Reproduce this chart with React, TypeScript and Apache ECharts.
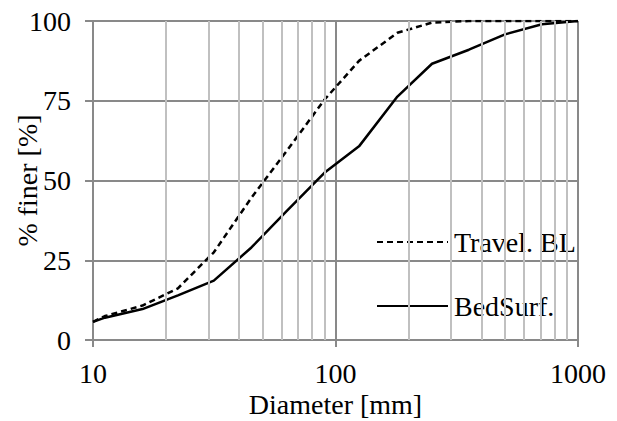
import React, { useEffect, useRef } from "react";
import * as echarts from "echarts";

const diameters = [10, 11.2, 16, 22.4, 31.5, 45, 63, 90, 125, 180, 250, 355, 500, 710, 1000];
const travelBL = [5.7, 7.5, 10.8, 16.2, 27.5, 44.6, 59.3, 75.3, 87.5, 96.3, 99.5, 100, 100, 100, 100];
const bedSurf = [5.7, 7.0, 9.7, 14.0, 18.6, 29.0, 40.5, 52.4, 60.7, 76.3, 86.6, 91.0, 95.8, 99.0, 100];
const minorGrid = [20, 30, 40, 50, 60, 70, 80, 90, 200, 300, 400, 500, 600, 700, 800, 900];
const seriesNames = ["Travel. BL", "BedSurf."];

const FONT = "Liberation Serif";
const FS = 28;

export default function App() {
  const ref = useRef<HTMLDivElement>(null);
  useEffect(() => {
    if (!ref.current) return;
    const chart = echarts.init(ref.current, undefined, { renderer: "svg" });
    chart.setOption({
      animation: false,
      textStyle: { fontFamily: FONT, color: "#000" },
      grid: {
        left: 93,
        right: 39,
        top: 21,
        bottom: 81,
        containLabel: false,
        outerBoundsMode: "none",
      },
      legend: {
        orient: "vertical",
        left: 371,
        top: 223,
        itemWidth: 71,
        itemHeight: 14,
        itemGap: 36,
        itemStyle: { opacity: 0, borderWidth: 0 },
        textStyle: { fontFamily: FONT, fontSize: FS, color: "#000", padding: [0, 0, 0, 1] },
        data: seriesNames,
      },
      xAxis: {
        type: "log",
        logBase: 10,
        min: 10,
        max: 1000,
        name: "Diameter [mm]",
        nameLocation: "middle",
        nameGap: 50,
        nameMoveOverlap: false,
        nameTextStyle: { fontFamily: FONT, fontSize: FS, color: "#000" },
        axisLine: { show: true, lineStyle: { color: "#898989", width: 2 } },
        axisTick: { show: true, length: 7, lineStyle: { color: "#898989", width: 2 } },
        axisLabel: {
          fontFamily: FONT,
          fontSize: FS,
          color: "#000",
          margin: 19,
          formatter: (v: number) => String(Math.round(v)),
        },
        splitLine: { show: true, lineStyle: { color: "#898989", width: 2 } },
        minorTick: { show: false },
        minorSplitLine: { show: false },
      },
      yAxis: {
        type: "value",
        min: 0,
        max: 100,
        interval: 25,
        name: "% finer [%]",
        nameLocation: "middle",
        nameGap: 52,
        nameMoveOverlap: false,
        nameRotate: 90,
        nameTextStyle: { fontFamily: FONT, fontSize: FS, color: "#000" },
        axisLine: { show: true, lineStyle: { color: "#898989", width: 2 } },
        axisTick: { show: true, length: 8, lineStyle: { color: "#898989", width: 2 } },
        axisLabel: { fontFamily: FONT, fontSize: FS, color: "#000", margin: 22 },
        splitLine: { show: true, lineStyle: { color: "#898989", width: 2 } },
      },
      series: [
        {
          name: "minor",
          type: "line",
          data: [],
          z: 1,
          silent: true,
          markLine: {
            silent: true,
            symbol: "none",
            label: { show: false },
            lineStyle: { color: "#c0c0c0", width: 2, type: "solid" },
            data: minorGrid.map((v) => ({ xAxis: v })),
          },
        },
        {
          name: seriesNames[0],
          type: "line",
          data: diameters.map((d, i) => [d, travelBL[i]]),
          symbol: "none",
          z: 3,
          lineStyle: { color: "#000", width: 2.5, type: [6, 4] },
          itemStyle: { color: "#000" },
        },
        {
          name: seriesNames[1],
          type: "line",
          data: diameters.map((d, i) => [d, bedSurf[i]]),
          symbol: "none",
          z: 3,
          lineStyle: { color: "#000", width: 2.5, type: "solid" },
          itemStyle: { color: "#000" },
        },
      ],
    });
    return () => chart.dispose();
  }, []);
  return (
    <div
      ref={ref}
      style={{ position: "fixed", left: 0, top: 0, width: 617, height: 421, background: "#fff" }}
    />
  );
}
